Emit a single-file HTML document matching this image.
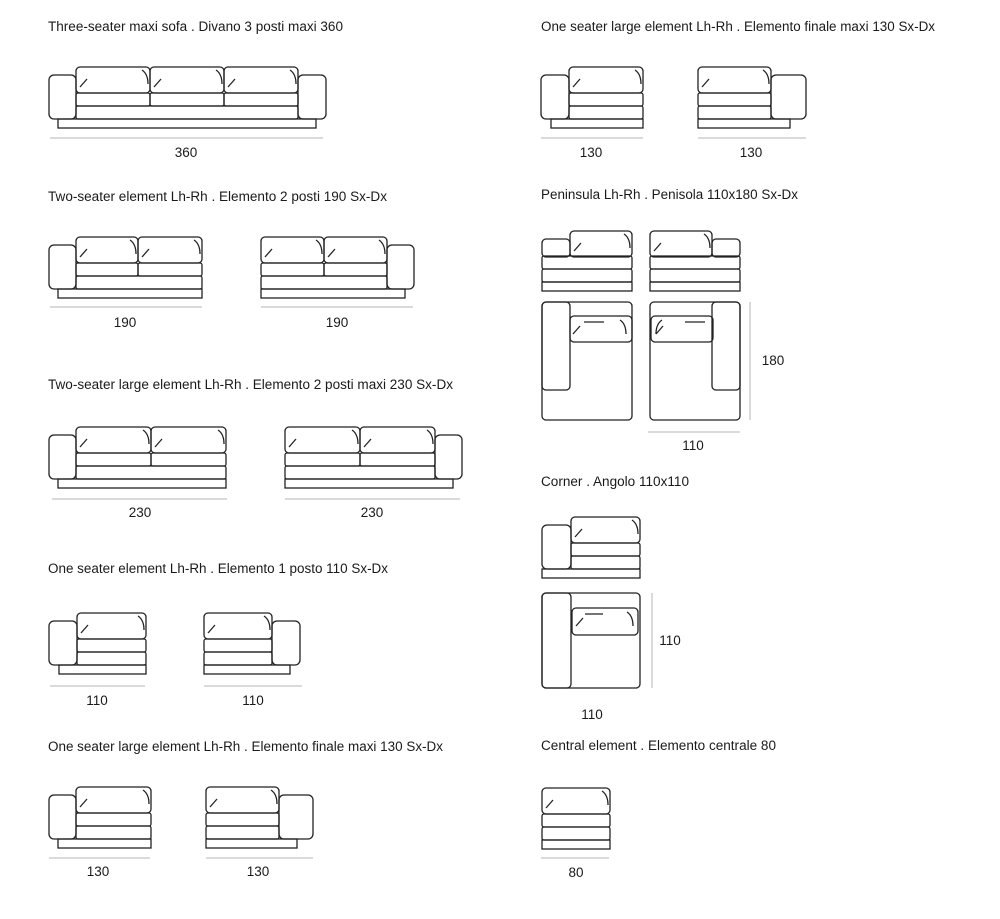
<!DOCTYPE html>
<html><head><meta charset="utf-8">
<style>
html,body{margin:0;padding:0;background:#fff;}
svg{display:block;}
.h{font-family:"Liberation Sans",sans-serif;font-size:13.5px;fill:#1a1a1a;}
.n{font-family:"Liberation Sans",sans-serif;font-size:13.5px;fill:#1a1a1a;text-anchor:middle;}
</style></head><body>
<svg id="s" width="1000" height="919" viewBox="0 0 1000 919" xmlns="http://www.w3.org/2000/svg">
<rect width="1000" height="919" fill="#fff"/>
<g id="d" fill="none" stroke="#222" stroke-width="1.3"></g>
<g id="dim" stroke="#b5b5b5" stroke-width="1"></g>
<text class="h" x="48" y="31" textLength="295" lengthAdjust="spacingAndGlyphs">Three-seater maxi sofa . Divano 3 posti maxi 360</text>
<text class="h" x="48" y="201" textLength="339" lengthAdjust="spacingAndGlyphs">Two-seater element Lh-Rh . Elemento 2 posti 190 Sx-Dx</text>
<text class="h" x="48" y="389" textLength="405" lengthAdjust="spacingAndGlyphs">Two-seater large element Lh-Rh . Elemento 2 posti maxi 230 Sx-Dx</text>
<text class="h" x="48" y="573" textLength="340" lengthAdjust="spacingAndGlyphs">One seater element Lh-Rh . Elemento 1 posto 110 Sx-Dx</text>
<text class="h" x="48" y="751" textLength="395" lengthAdjust="spacingAndGlyphs">One seater large element Lh-Rh . Elemento finale maxi 130 Sx-Dx</text>
<text class="h" x="541" y="31" textLength="394" lengthAdjust="spacingAndGlyphs">One seater large element Lh-Rh . Elemento finale maxi 130 Sx-Dx</text>
<text class="h" x="541" y="199" textLength="257" lengthAdjust="spacingAndGlyphs">Peninsula Lh-Rh . Penisola 110x180 Sx-Dx</text>
<text class="h" x="541" y="486" textLength="148" lengthAdjust="spacingAndGlyphs">Corner . Angolo 110x110</text>
<text class="h" x="541" y="750" textLength="235" lengthAdjust="spacingAndGlyphs">Central element . Elemento centrale 80</text>
<text class="n" x="186" y="157">360</text>
<text class="n" x="125" y="327">190</text>
<text class="n" x="337" y="327">190</text>
<text class="n" x="140" y="517">230</text>
<text class="n" x="372" y="517">230</text>
<text class="n" x="97" y="705">110</text>
<text class="n" x="253" y="705">110</text>
<text class="n" x="98" y="876">130</text>
<text class="n" x="258" y="876">130</text>
<text class="n" x="591" y="157">130</text>
<text class="n" x="751" y="157">130</text>
<text class="n" x="773" y="365">180</text>
<text class="n" x="693" y="450">110</text>
<text class="n" x="670" y="645">110</text>
<text class="n" x="592" y="719">110</text>
<text class="n" x="576" y="877">80</text>
</svg>
<script>
var d='',m='';
function R(x,y,w,h,r){return '<rect x="'+x+'" y="'+y+'" width="'+w+'" height="'+h+'" rx="'+(r==null?3:r)+'"/>';}
function L(x1,y1,x2,y2){return '<line x1="'+x1+'" y1="'+y1+'" x2="'+x2+'" y2="'+y2+'"/>';}
function mk(x,y,dir){ // small fold mark
  return '<path d="M'+(x+dir*9)+' '+(y)+' L'+(x+dir*2)+' '+(y+8)+'"/>';}
function cv(x,y,dir){return '<path d="M'+x+' '+y+' Q'+(x+dir*6)+' '+(y+4)+' '+(x+dir*6)+' '+(y+14)+'"/>';}
function front(y,backs,aL,aR,pl){
  var s='';
  if(aL) s+=R(aL[0],y+8,aL[1]-aL[0],44,5);
  if(aR) s+=R(aR[0],y+8,aR[1]-aR[0],44,5);
  backs.forEach(function(b){s+=R(b[0],y,b[1]-b[0],26,4);s+=R(b[0],y+26,b[1]-b[0],13,2);
    s+=mk(b[0]+2,y+12,1); s+=cv(b[1]-8,y+3,1);});
  var x1=backs[0][0],x2=backs[backs.length-1][1];
  s+=R(x1,y+39,x2-x1,13,2);
  s+=R(pl[0],y+52,pl[1]-pl[0],9,0);
  return s;
}
function dimH(x1,x2,y){m+=L(x1,y,x2,y);}
function dimV(x,y1,y2){m+=L(x,y1,x,y2);}
// 3 seater
d+=front(67,[[76,150],[150,224],[224,298]],[49,76],[298,326],[58,316]); dimH(50,323,138);
// 190
d+=front(237,[[76,138],[138,202]],[49,76],null,[58,202]); dimH(50,202,307);
d+=front(237,[[261,324],[324,387]],null,[387,414],[261,405]); dimH(261,413,307);
// 230
d+=front(427,[[76,151],[151,226]],[49,76],null,[58,226]); dimH(52,227,499);
d+=front(427,[[285,360],[360,435]],null,[435,462],[285,453]); dimH(285,460,499);
// 110
d+=front(613,[[77,146]],[49,77],null,[59,146]); dimH(50,145,686);
d+=front(613,[[204,272]],null,[272,300],[204,290]); dimH(204,302,686);
// 130
d+=front(787,[[76,151]],[49,76],null,[58,151]); dimH(49,150,858);
d+=front(787,[[206,279]],null,[279,313],[206,297]); dimH(206,313,858);
// top right 130
d+=front(67,[[569,643]],[541,569],null,[551,643]); dimH(541,643,138);
d+=front(67,[[698,771]],null,[771,806],[698,790]); dimH(698,806,138);
// peninsula fronts
function pfront(bx1,bx2,ax1,ax2,x1,x2){
  var s=R(bx1,231,bx2-bx1,26,4)+R(ax1,239,ax2-ax1,18,4);
  s+=R(x1,256,x2-x1,13,2)+R(x1,269,x2-x1,13,2)+R(x1,282,x2-x1,9,0);
  s+=mk(bx1+2,243,1)+cv(bx2-8,234,1);
  return s;}
d+=pfront(570,632,542,570,542,632);
d+=pfront(650,712,712,740,650,740);
// peninsula plans
d+=R(542,302,90,118,4)+R(542,302,28,88,4)+R(570,316,62,26,4)+L(584,322,604,322)+mk(571,326,1)+cv(620,320,1);
d+=R(650,302,90,118,4)+R(712,302,28,88,4)+R(651,316,62,26,4)+L(685,322,705,322)+mk(654,326,1)+cv(662,320,-1);
dimV(750,302,420); dimH(648,740,432);
// corner
d+=front(517,[[571,640]],[542,571],null,[542,640]);
d+=R(542,593,98,95,4)+R(542,593,29,95,4)+R(572,608,66,27,4)+L(585,614,603,614)+mk(574,618,1)+cv(627,612,1);
dimV(652,593,688);
// central
d+=front(788,[[542,610]],null,null,[542,610]); dimH(541,609,858);
document.getElementById('d').innerHTML=d;
document.getElementById('dim').innerHTML=m;
</script>
</body></html>
